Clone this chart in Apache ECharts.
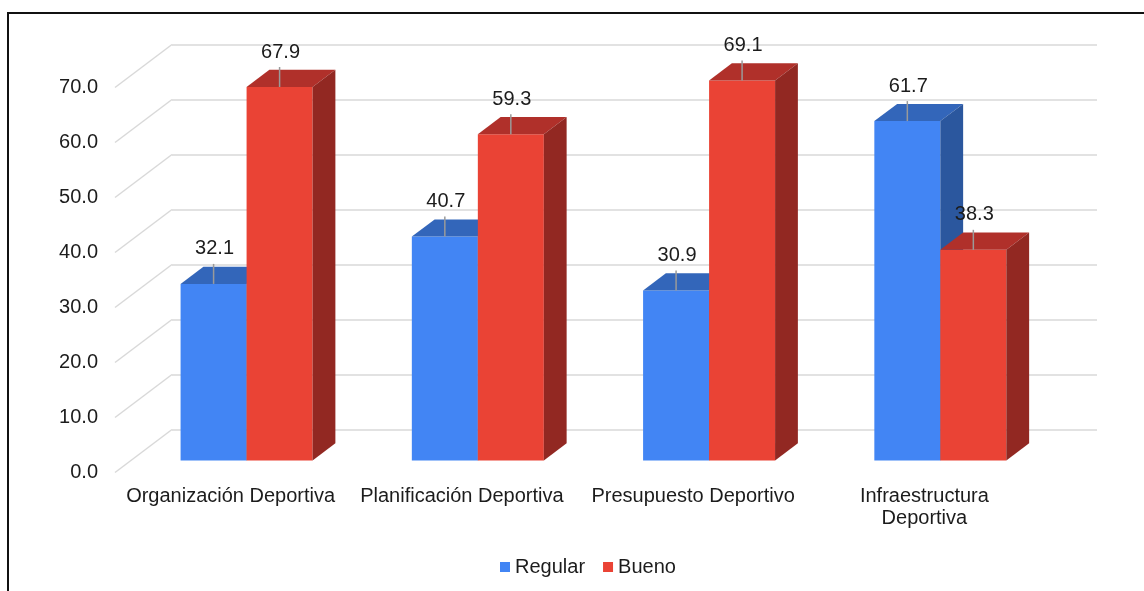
<!DOCTYPE html>
<html>
<head>
<meta charset="utf-8">
<script src="https://cdn.jsdelivr.net/npm/echarts@6.0.0/dist/echarts.min.js"></script>
<style>
  html, body { margin: 0; padding: 0; background: #fff; overflow: hidden; }
  #chart { position: absolute; left: 0; top: 0; width: 1144px; height: 591px; }
  #frame { position: absolute; left: 7px; top: 12px; width: 1300px; height: 800px;
           border-top: 2px solid #111; border-left: 2px solid #111; pointer-events: none; }
</style>
</head>
<body>
<div id="chart"></div>
<div id="frame"></div>
<script>
// ---- data ----
const categories = ['Organización Deportiva', 'Planificación Deportiva', 'Presupuesto Deportivo', 'Infraestructura Deportiva'];
const seriesNames = ['Regular', 'Bueno'];
const regular = [32.1, 40.7, 30.9, 61.7];
const bueno = [67.9, 59.3, 69.1, 38.3];
const yTicks = [0, 10, 20, 30, 40, 50, 60, 70];

// ---- pseudo-3D layout ----
const FONT = "'Liberation Sans', Arial, sans-serif";
const TEXT = '#1c1c1c';
const GRID_LINE = '#d9d9d9';
const PLOT_W = 925, PLOT_H = 385;
const FLOOR = { left: 115, top: 87.5 };   // front edge of the floor (axis labels live here)
const BACK = { left: 172, top: 44.5 };    // back wall (gridlines live here)
const DEPTH = [BACK.left - FLOOR.left, BACK.top - FLOOR.top];
const BAR_NEAR = 0.28, BAR_FAR = 0.68;    // bars occupy this slice of the depth
const BAR_FRONT = { left: FLOOR.left + DEPTH[0] * BAR_NEAR, top: FLOOR.top + DEPTH[1] * BAR_NEAR };
const BAR_DEPTH = [DEPTH[0] * (BAR_FAR - BAR_NEAR), DEPTH[1] * (BAR_FAR - BAR_NEAR)];
const BAR_W = 66;
const LEADER = 20, LABEL_RISE = 35;
const WRAP_AT = 24;                        // long category names go on two lines

const palette = {
  Regular: { front: '#4285F4', top: '#3366BA', side: '#2B579E' },
  Bueno:   { front: '#EA4335', top: '#B0302A', side: '#922822' }
};

function yAxisBase(gridIndex) {
  return { type: 'value', gridIndex, min: 0, max: yTicks[yTicks.length - 1], interval: yTicks[1] - yTicks[0] };
}

function barRenderer(slot, colors) {
  return function (params, api) {
    const i = api.value(0), v = api.value(1);
    const top = api.coord([i, v]);
    const base = api.coord([i, 0]);
    const x0 = top[0] + slot * BAR_W, x1 = x0 + BAR_W;
    const yT = top[1], yB = base[1];
    const dx = BAR_DEPTH[0], dy = BAR_DEPTH[1];
    const xc = (x0 + x1) / 2;
    return {
      type: 'group',
      children: [
        { type: 'rect', shape: { x: x0, y: yT, width: BAR_W, height: yB - yT }, style: { fill: colors.front } },
        { type: 'polygon', shape: { points: [[x0, yT], [x1, yT], [x1 + dx, yT + dy], [x0 + dx, yT + dy]] }, style: { fill: colors.top } },
        { type: 'polygon', shape: { points: [[x1, yT], [x1 + dx, yT + dy], [x1 + dx, yB + dy], [x1, yB]] }, style: { fill: colors.side } },
        { type: 'line', z2: 50, shape: { x1: xc, y1: yT, x2: xc, y2: yT - LEADER }, style: { stroke: '#9a9a9a', lineWidth: 1.5 } },
        { type: 'text', z2: 60, x: xc + 1, y: yT - LABEL_RISE,
          style: { text: v.toFixed(1), fontSize: 20, fontFamily: FONT, fill: TEXT, align: 'center', verticalAlign: 'middle' } }
      ]
    };
  };
}

const chart = echarts.init(document.getElementById('chart'), null, { renderer: 'canvas' });
chart.setOption({
  animation: false,
  backgroundColor: '#ffffff',
  textStyle: { fontFamily: FONT },
  grid: [
    { left: FLOOR.left, top: FLOOR.top, width: PLOT_W, height: PLOT_H },
    { left: BAR_FRONT.left, top: BAR_FRONT.top, width: PLOT_W, height: PLOT_H },
    { left: BACK.left, top: BACK.top, width: PLOT_W, height: PLOT_H }
  ],
  xAxis: [
    { type: 'category', gridIndex: 0, data: categories,
      axisLine: { show: false }, axisTick: { show: false },
      axisLabel: { fontSize: 20, color: TEXT, fontFamily: FONT, margin: 13, lineHeight: 22, interval: 0,
                   formatter: s => s.length > WRAP_AT ? s.replace(' ', '\n') : s } },
    { type: 'category', gridIndex: 1, data: categories, show: false },
    { type: 'category', gridIndex: 2, data: categories, show: false }
  ],
  yAxis: [
    Object.assign(yAxisBase(0), {
      axisLine: { show: false }, axisTick: { show: false }, splitLine: { show: false },
      axisLabel: { fontSize: 20, color: TEXT, fontFamily: FONT, margin: 17, formatter: v => v.toFixed(1) }
    }),
    Object.assign(yAxisBase(1), { show: false }),
    Object.assign(yAxisBase(2), {
      axisLine: { show: false }, axisTick: { show: false }, axisLabel: { show: false },
      splitLine: { show: true, lineStyle: { color: GRID_LINE, width: 1.5 } }
    })
  ],
  legend: {
    data: seriesNames, left: 495, top: 552, icon: 'rect', itemWidth: 10, itemHeight: 10, itemGap: 18,
    textStyle: { fontSize: 20, color: TEXT, fontFamily: FONT }
  },
  series: [
    { type: 'custom', name: 'floor', xAxisIndex: 0, yAxisIndex: 0, silent: true,
      data: yTicks.map(v => [0, v]), encode: { x: 0, y: 1 },
      renderItem: function (params, api) {
        const y = api.coord([0, api.value(1)])[1];
        const cs = params.coordSys;
        return { type: 'line', shape: { x1: cs.x, y1: y, x2: cs.x + DEPTH[0], y2: y + DEPTH[1] },
                 style: { stroke: GRID_LINE, lineWidth: 1.5 } };
      } },
    { type: 'custom', name: seriesNames[0], xAxisIndex: 1, yAxisIndex: 1,
      itemStyle: { color: palette.Regular.front },
      data: regular.map((v, i) => [i, v]), encode: { x: 0, y: 1 },
      renderItem: barRenderer(-1, palette.Regular) },
    { type: 'custom', name: seriesNames[1], xAxisIndex: 1, yAxisIndex: 1,
      itemStyle: { color: palette.Bueno.front },
      data: bueno.map((v, i) => [i, v]), encode: { x: 0, y: 1 },
      renderItem: barRenderer(0, palette.Bueno) }
  ]
});
</script>
</body>
</html>
